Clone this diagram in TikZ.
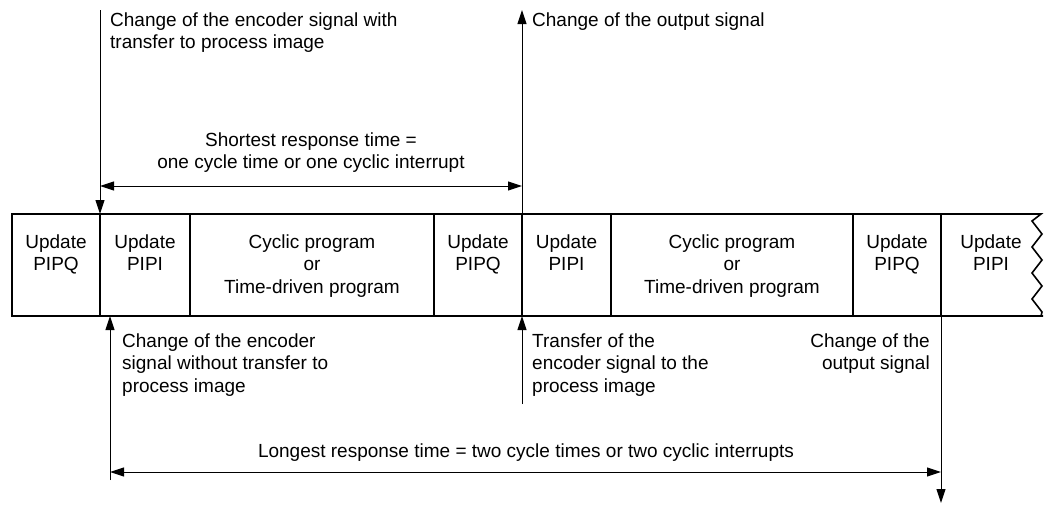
\documentclass[tikz,border=0pt]{standalone}
\usepackage{fontspec}
\setmainfont{Liberation Sans}
\usetikzlibrary{positioning,arrows.meta}

% lines of a text, first baseline on top
\newcommand{\stack}[2][c]{\begin{tabular}[t]{@{}#1@{}}#2\end{tabular}}

\tikzset{
  cell/.style={draw, line width=1.6pt, inner sep=0pt, outer sep=0pt,
    minimum width=#1, text height=34pt, text depth=68pt, anchor=north west},
  sig/.style={line width=1pt, -{Triangle[length=14pt,width=9pt]}},
  span/.style={line width=1pt,
    {Triangle[length=14pt,width=9pt]}-{Triangle[length=14pt,width=9pt]}},
  txt/.style={inner sep=0pt, anchor=base west},
}

\begin{document}
\begin{tikzpicture}[x=1pt, y=-1pt, font=\fontsize{19}{22.5}\selectfont]
  \useasboundingbox (0,0) rectangle (1044,504);

  % the cycle bar
  \node[cell=88pt] (q1) at (12,214) {\stack{Update\\PIPQ}};
  \node[cell=90pt, right=0pt of q1] (i1) {\stack{Update\\PIPI}};
  \node[cell=244pt, right=0pt of i1] (p1) {\stack{Cyclic program\\or\\Time-driven program}};
  \node[cell=88pt, right=0pt of p1] (q2) {\stack{Update\\PIPQ}};
  \node[cell=89pt, right=0pt of q2] (i2) {\stack{Update\\PIPI}};
  \node[cell=242pt, right=0pt of i2] (p2) {\stack{Cyclic program\\or\\Time-driven program}};
  \node[cell=88pt, right=0pt of p2] (q3) {\stack{Update\\PIPQ}};
  \node[cell=100pt, draw=none, right=0pt of q3] (i3) {\stack{Update\\PIPI}};
  \draw[line width=1.6pt, line join=miter]
    (i3.north west) -- (i3.north east)
    -- ++(-9,7) -- ++(10,13) -- ++(-10,13) -- ++(10,13)
    -- ++(-10,13) -- ++(10,13) -- ++(-10,13) -- ++(10,13)
    -- (i3.south east) -- ++(2,0);
  \draw[line width=1.6pt] (i3.south east) -- (i3.south west);

  % shortest response
  \coordinate (a1) at (i1.north west |- 0,10);
  \coordinate (a2) at (q2.north east |- 0,10);
  \draw[sig] (a1) -- (i1.north west);
  \draw[sig] (q2.north east) -- (a2);
  \coordinate (s1) at (i1.north west |- 0,186);
  \coordinate (s2) at (q2.north east |- 0,186);
  \draw[span] (s1) -- (s2);
  \node[txt] (t1) at (110,26) {\stack[l]{Change of the encoder signal with\\transfer to process image}};
  \node[txt] (t2) at (532,26) {Change of the output signal};
  \node[txt, anchor=base] (t3) at (311,146) {\stack{Shortest response time =\\one cycle time or one cyclic interrupt}};

  % longest response
  \coordinate (b1) at (110,480);
  \coordinate (b2) at (q2.south east |- 0,404);
  \coordinate (b3) at (q3.south east |- 0,503);
  \draw[sig] (b1) -- (b1 |- i1.south);
  \draw[sig] (b2) -- (q2.south east);
  \draw[sig] (q3.south east) -- (b3);
  \coordinate (l1) at (b1 |- 0,472);
  \coordinate (l2) at (b3 |- 0,472);
  \draw[span] (l1) -- (l2);
  \node[txt] (t4) at (122,347) {\stack[l]{Change of the encoder\\signal without transfer to\\process image}};
  \node[txt] (t5) at (532,347) {\stack[l]{Transfer of the\\encoder signal to the\\process image}};
  \node[txt, anchor=base east] (t6) at (930,347) {\stack[r]{Change of the\\output signal}};
  \node[txt, anchor=base] (t7) at (526,457) {Longest response time = two cycle times or two cyclic interrupts};
\end{tikzpicture}
\end{document}
